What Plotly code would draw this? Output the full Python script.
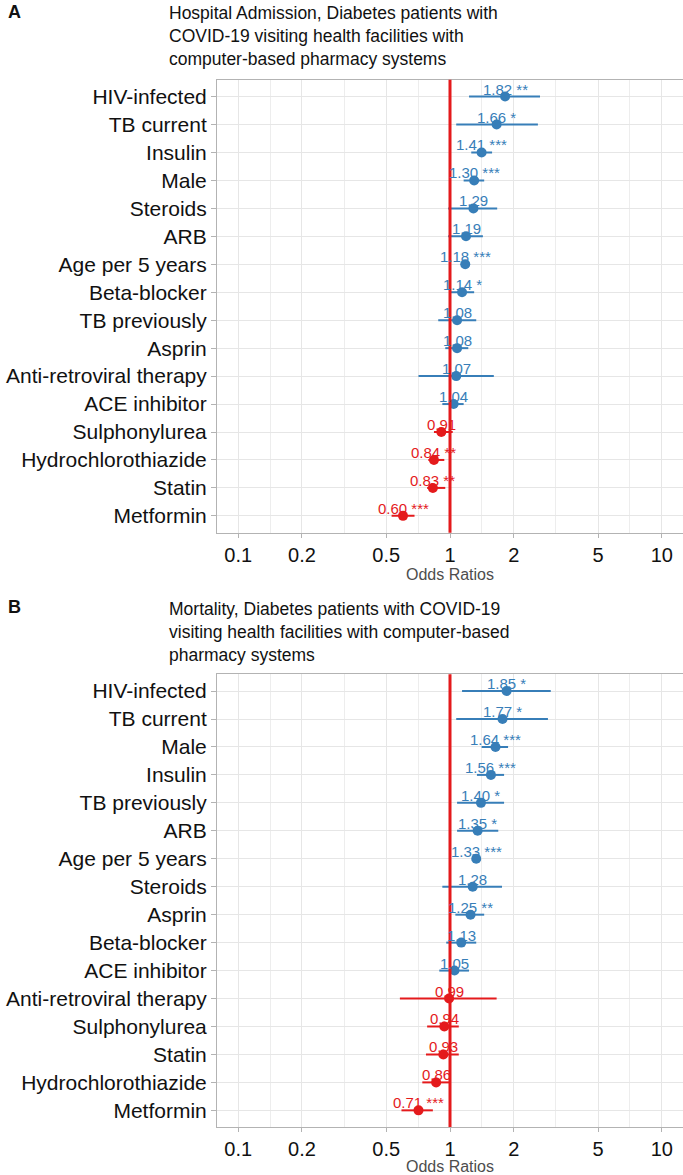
import numpy as np
import plotly.graph_objects as go

# ---------------- data ----------------
cats_a = ["HIV-infected", "TB current", "Insulin", "Male", "Steroids", "ARB",
          "Age per 5 years", "Beta-blocker", "TB previously", "Asprin",
          "Anti-retroviral therapy", "ACE inhibitor", "Sulphonylurea",
          "Hydrochlorothiazide", "Statin", "Metformin"]
or_a = [1.82, 1.66, 1.41, 1.30, 1.29, 1.19, 1.18, 1.14, 1.08, 1.08, 1.07, 1.04, 0.91, 0.84, 0.83, 0.60]
lo_a = [1.23, 1.07, 1.26, 1.16, 0.98, 0.98, 1.15, 1.01, 0.88, 0.95, 0.71, 0.92, 0.84, 0.79, 0.78, 0.53]
hi_a = [2.66, 2.60, 1.58, 1.45, 1.67, 1.43, 1.21, 1.30, 1.33, 1.22, 1.61, 1.16, 1.03, 0.94, 0.95, 0.68]
stars_a = ["**", "*", "***", "***", "", "", "***", "*", "", "", "", "", "", "**", "**", "***"]

cats_b = ["HIV-infected", "TB current", "Male", "Insulin", "TB previously", "ARB",
          "Age per 5 years", "Steroids", "Asprin", "Beta-blocker", "ACE inhibitor",
          "Anti-retroviral therapy", "Sulphonylurea", "Statin",
          "Hydrochlorothiazide", "Metformin"]
or_b = [1.85, 1.77, 1.64, 1.56, 1.40, 1.35, 1.33, 1.28, 1.25, 1.13, 1.05, 0.99, 0.94, 0.93, 0.86, 0.71]
lo_b = [1.14, 1.07, 1.41, 1.34, 1.08, 1.08, 1.29, 0.92, 1.06, 0.96, 0.89, 0.58, 0.78, 0.77, 0.74, 0.59]
hi_b = [2.99, 2.90, 1.88, 1.80, 1.80, 1.69, 1.37, 1.76, 1.45, 1.33, 1.23, 1.66, 1.10, 1.10, 1.00, 0.83]
stars_b = ["*", "*", "***", "***", "*", "*", "***", "", "**", "", "", "", "", "", "", "***"]

title_a = "Hospital Admission, Diabetes patients with<br>COVID-19 visiting health facilities with<br>computer-based pharmacy systems"
title_b = "Mortality, Diabetes patients with COVID-19<br>visiting health facilities with computer-based<br>pharmacy systems"

x_ticks = [0.1, 0.2, 0.5, 1, 2, 5, 10]
x_tick_text = ["0.1", "0.2", "0.5", "1", "2", "5", "10"]
x_minor = [0.1414, 0.3162, 0.7071, 1.4142, 3.1623, 7.0711]
ref_line = 1

BLUE = "#377EB8"
RED = "#E41A1C"
FONT = "Liberation Sans, Arial, sans-serif"

W, H = 683, 1175

fig = go.Figure()
label_annots = []


def add_panel(cats, ors, los, his, stars, xa, ya):
    ors = np.array(ors)
    los = np.array(los)
    his = np.array(his)
    cats = np.array(cats)
    for mask, col in [(ors > 1, BLUE), (ors <= 1, RED)]:
        fig.add_trace(go.Scatter(
            x=ors[mask], y=cats[mask], mode="markers",
            marker=dict(color=col, size=10),
            error_x=dict(type="data", symmetric=False,
                         array=(his - ors)[mask], arrayminus=(ors - los)[mask],
                         color=col, thickness=2, width=0),
            xaxis=xa, yaxis=ya, showlegend=False, hoverinfo="x+y"))
    for c, o, s in zip(cats, ors, stars):
        col = BLUE if o > 1 else RED
        label_annots.append(dict(
            xref=xa, yref=ya, x=np.log10(o), y=c, text=f"{o:.2f} {s}".strip(),
            showarrow=False, xanchor="center", yanchor="bottom", yshift=-3,
            font=dict(size=15, color=col, family=FONT)))


add_panel(cats_a, or_a, lo_a, hi_a, stars_a, "x", "y")
add_panel(cats_b, or_b, lo_b, hi_b, stars_b, "x2", "y2")

xdom = [217 / W, 1.0]
ydom_a = [1 - 534 / H, 1 - 80 / H]
ydom_b = [1 - 1130 / H, 1 - 676 / H]

xaxis_common = dict(
    type="log", range=[np.log10(0.1) - 0.1, np.log10(10) + 0.1],
    tickmode="array", tickvals=x_ticks, ticktext=x_tick_text,
    tickfont=dict(size=20, color="#111111", family=FONT),
    showgrid=True, gridcolor="#e6e6e6", gridwidth=1,
    minor=dict(tickmode="array", tickvals=x_minor, showgrid=True,
               gridcolor="#ededed", gridwidth=1, ticks=""),
    showline=True, mirror=True, linecolor="#b3b3b3", linewidth=1,
    ticks="outside", ticklen=4, tickcolor="#b3b3b3",
    zeroline=False, domain=xdom,
    title=dict(text="Odds Ratios", font=dict(size=16, color="#4d4d4d", family=FONT), standoff=4),
)


def yaxis_for(cats, dom):
    return dict(
        type="category", categoryorder="array", categoryarray=cats[::-1],
        range=[-0.6, len(cats) - 0.4],
        tickfont=dict(size=21, color="#111111", family=FONT),
        showgrid=True, gridcolor="#e6e6e6", gridwidth=1,
        showline=True, mirror=True, linecolor="#b3b3b3", linewidth=1,
        ticks="outside", ticklen=5, tickcolor="#b3b3b3",
        zeroline=False, domain=dom, automargin=False,
    )


fig.update_layout(
    width=W, height=H,
    margin=dict(l=0, r=0, t=0, b=0),
    paper_bgcolor="white", plot_bgcolor="white",
    font=dict(family=FONT),
    showlegend=False,
    xaxis=dict(**xaxis_common, anchor="y"),
    yaxis=dict(**yaxis_for(cats_a, ydom_a), anchor="x"),
    xaxis2=dict(**xaxis_common, anchor="y2"),
    yaxis2=dict(**yaxis_for(cats_b, ydom_b), anchor="x2"),
)

for xr, yr in [("x", "y"), ("x2", "y2")]:
    fig.add_shape(type="line", x0=ref_line, x1=ref_line, y0=0, y1=1,
                  xref=xr, yref=f"{yr} domain",
                  line=dict(color=RED, width=3), layer="above")

annots = [
    dict(text=title_a, x=167 / W, y=1 - 1 / H, xanchor="left", yanchor="top",
         align="left", font=dict(size=17.5, color="#111111", family=FONT)),
    dict(text=title_b, x=167 / W, y=1 - 599 / H, xanchor="left", yanchor="top",
         align="left", font=dict(size=17.5, color="#111111", family=FONT)),
    dict(text="<b>A</b>", x=6 / W, y=1 - 12 / H, xanchor="left", yanchor="middle",
         font=dict(size=18, color="#111111", family=FONT)),
    dict(text="<b>B</b>", x=6 / W, y=1 - 609 / H, xanchor="left", yanchor="middle",
         font=dict(size=18, color="#111111", family=FONT)),
]
for a in annots:
    fig.add_annotation(xref="paper", yref="paper", showarrow=False, **a)
for a in label_annots:
    fig.add_annotation(**a)

fig.write_html("out.html", config={"displayModeBar": False},
               post_script="document.body.style.margin='0';document.body.style.overflow='hidden';")
